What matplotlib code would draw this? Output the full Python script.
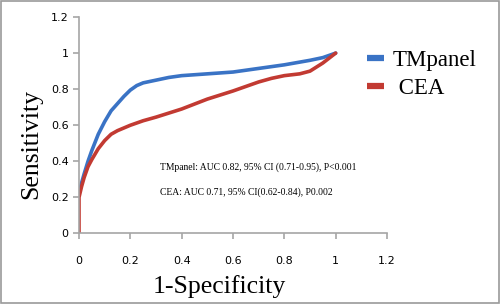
import numpy as np
import matplotlib
matplotlib.use('Agg')
import matplotlib.pyplot as plt
from matplotlib.patches import Rectangle

#%% datos leidos de la curva ROC
x_tm = [0, 0.01, 0.02, 0.035, 0.05, 0.075, 0.1, 0.125, 0.15, 0.175, 0.2, 0.225, 0.25,
        0.3, 0.35, 0.4, 0.5, 0.6, 0.7, 0.8, 0.86, 0.9, 0.95, 1.0]
y_tm = [0.22, 0.28, 0.33, 0.40, 0.46, 0.55, 0.62, 0.68, 0.72, 0.76, 0.795, 0.82, 0.835,
        0.85, 0.865, 0.875, 0.885, 0.895, 0.915, 0.935, 0.95, 0.96, 0.975, 1.0]

x_cea = [0, 0, 0.01, 0.02, 0.035, 0.05, 0.075, 0.1, 0.125, 0.15, 0.175, 0.2, 0.25,
         0.3, 0.4, 0.5, 0.6, 0.7, 0.75, 0.8, 0.86, 0.9, 0.95, 1.0]
y_cea = [0, 0.2, 0.26, 0.31, 0.37, 0.41, 0.47, 0.515, 0.55, 0.57, 0.585, 0.6, 0.625,
         0.645, 0.69, 0.745, 0.79, 0.84, 0.86, 0.875, 0.885, 0.9, 0.945, 1.0]

ticks = [0, 0.2, 0.4, 0.6, 0.8, 1, 1.2]
tick_lab = ['0', '0.2', '0.4', '0.6', '0.8', '1', '1.2']
texto_tm = 'TMpanel: AUC 0.82, 95% CI (0.71-0.95), P<0.001'
texto_cea = 'CEA: AUC 0.71, 95% CI(0.62-0.84), P0.002'

azul = '#3A73C5'
rojo = '#C23A32'
gris = '#A6A6A6'
#%%
fig = plt.figure(figsize=(5, 3.04), dpi=100)
fig.patches.append(Rectangle((0.002, 0.003), 0.995, 0.994, transform=fig.transFigure,
                             fill=False, edgecolor='#9A9A9A', linewidth=1.2))
ax = fig.add_axes([0.158, 0.232, 0.616, 0.712])

ax.plot(x_tm, y_tm, color=azul, lw=2.6, solid_capstyle='round', solid_joinstyle='round')
ax.plot(x_cea, y_cea, color=rojo, lw=2.6, solid_capstyle='round', solid_joinstyle='round')

ax.set_xlim(0, 1.2)
ax.set_ylim(0, 1.2)
ax.set_xticks(ticks)
ax.set_xticklabels(tick_lab)
ax.set_yticks(ticks)
ax.set_yticklabels(tick_lab)
for s in ['top', 'right']:
    ax.spines[s].set_visible(False)
for s in ['left', 'bottom']:
    ax.spines[s].set_color(gris)
    ax.spines[s].set_linewidth(1.2)
ax.tick_params(colors=gris, labelcolor='black', labelsize=8, length=4, width=1.2)
ax.tick_params(axis='x', pad=12)

ax.set_xlabel('1-Specificity', family='Liberation Serif', fontsize=18.5)
ax.set_ylabel('Sensitivity', family='Liberation Serif', fontsize=18.5)
ax.xaxis.set_label_coords(0.455, -0.19)
ax.yaxis.set_label_coords(-0.12, 0.413)

ax.text(0.315, 0.367, texto_tm, family='Liberation Serif', fontsize=6.9, va='center')
ax.text(0.315, 0.228, texto_cea, family='Liberation Serif', fontsize=6.9, va='center')

h1, = ax.plot([], [], color=azul, lw=4.5, solid_capstyle='butt')
h2, = ax.plot([], [], color=rojo, lw=4.5, solid_capstyle='butt')
fig.legend([h1, h2], ['TMpanel', ' CEA'], loc='upper left', bbox_to_anchor=(0.693, 0.905),
           frameon=False, prop={'family': 'Liberation Serif', 'size': 16.5},
           handlelength=0.72, handletextpad=0.4, labelspacing=0.33)

fig.savefig('out.png', dpi=100)
